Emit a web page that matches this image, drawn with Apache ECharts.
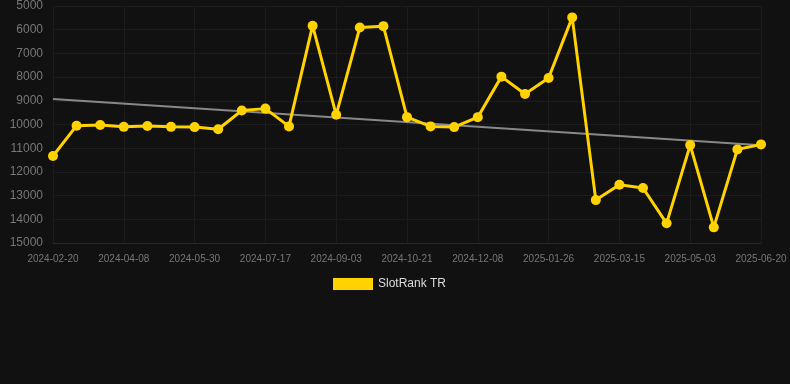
<!DOCTYPE html>
<html>
<head>
<meta charset="utf-8">
<script src="https://cdn.jsdelivr.net/npm/echarts@6/dist/echarts.min.js"></script>
<style>
html,body{margin:0;padding:0;background:#111111;}
#c{width:790px;height:384px;}
</style>
</head>
<body>
<div id="c"></div>
<script>
var categories = ['2024-02-20','2024-03-07','2024-03-23','2024-04-08','2024-04-24','2024-05-14','2024-05-30','2024-06-15','2024-07-01','2024-07-17','2024-08-02','2024-08-18','2024-09-03','2024-09-19','2024-10-05','2024-10-21','2024-11-06','2024-11-22','2024-12-08','2024-12-24','2025-01-09','2025-01-26','2025-02-11','2025-02-27','2025-03-15','2025-03-31','2025-04-16','2025-05-03','2025-05-19','2025-06-04','2025-06-20'];
var rankValues = [11330,10050,10020,10100,10060,10100,10110,10200,9410,9330,10080,5830,9590,5910,5850,9690,10080,10110,9690,7980,8710,8040,5480,13190,12540,12680,14170,10870,14340,11050,10840];
var trendStart = 8920;
var trendEnd = 10880;
var yTicks = {min:5000, max:15000, interval:1000};
var seriesName = 'SlotRank TR';

var trendData = categories.map(function(_, i){
  if (i === 0) return trendStart;
  if (i === categories.length - 1) return trendEnd;
  return null;
});

var chart = echarts.init(document.getElementById('c'));
chart.setOption({
  backgroundColor: '#111111',
  animation: false,
  grid: {left: 53, right: 29, top: 6, bottom: 141, containLabel: false},
  legend: {
    data: [seriesName],
    top: 273,
    left: 328,
    itemWidth: 40,
    itemHeight: 12,
    itemGap: 10,
    icon: 'rect',
    textStyle: {color: '#dddddd', fontSize: 12, fontFamily: 'Arial, "Liberation Sans", sans-serif'}
  },
  xAxis: {
    type: 'category',
    data: categories,
    boundaryGap: false,
    axisLine: {show: true, lineStyle: {color: '#2a2a2a'}},
    axisTick: {show: false},
    axisLabel: {color: '#777777', fontSize: 10, interval: 2, margin: 11, fontFamily: 'Arial, "Liberation Sans", sans-serif'},
    splitLine: {show: true, interval: 2, lineStyle: {color: '#1c1c1c', width: 1}}
  },
  yAxis: {
    type: 'value',
    inverse: true,
    min: yTicks.min,
    max: yTicks.max,
    interval: yTicks.interval,
    axisLine: {show: false},
    axisTick: {show: false},
    axisLabel: {color: '#777777', fontSize: 12, margin: 10, formatter: function(v){ return String(v); }, fontFamily: 'Arial, "Liberation Sans", sans-serif'},
    splitLine: {show: true, lineStyle: {color: '#1c1c1c', width: 1}}
  },
  series: [
    {
      name: 'trend',
      type: 'line',
      data: trendData,
      connectNulls: true,
      symbol: 'none',
      silent: true,
      lineStyle: {color: '#888888', width: 2},
      z: 1
    },
    {
      name: seriesName,
      type: 'line',
      data: rankValues,
      symbol: 'circle',
      symbolSize: 10,
      itemStyle: {color: '#ffd200'},
      lineStyle: {color: '#ffd200', width: 3},
      z: 2
    }
  ]
});
</script>
</body>
</html>
